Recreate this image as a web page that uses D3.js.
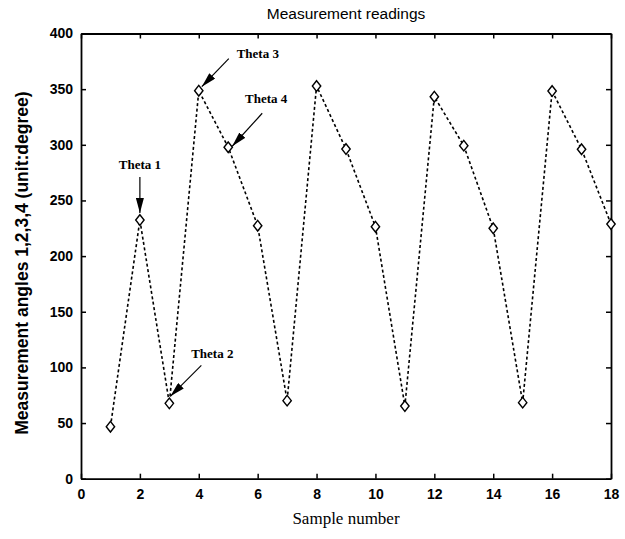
<!DOCTYPE html>
<html>
<head>
<meta charset="utf-8">
<script src="https://cdn.jsdelivr.net/npm/d3@7"></script>
<style>
  html, body { margin: 0; padding: 0; background: #fff; }
  svg { display: block; }
</style>
</head>
<body>
<script>
// ---- data ----
const samples = [1, 2, 3, 4, 5, 6, 7, 8, 9, 10, 11, 12, 13, 14, 15, 16, 17, 18];
const angles  = [46.7, 232.4, 67.7, 348.6, 297.8, 227.3, 70.1, 352.8, 296.2, 226.4, 65.3, 343.2, 299.2, 225.0, 68.3, 348.3, 296.0, 228.8];
const xTicks = [0, 2, 4, 6, 8, 10, 12, 14, 16, 18];
const yTicks = [0, 50, 100, 150, 200, 250, 300, 350, 400];
const annLabels = ["Theta 1", "Theta 2", "Theta 3", "Theta 4"];
const annSample = [2, 3, 4, 5];

const W = 625, H = 539;
const m = { left: 81, right: 14, top: 33.5, bottom: 60.3 };

const svg = d3.select("body").append("svg").attr("width", W).attr("height", H);

const x = d3.scaleLinear().domain([0, 18]).range([m.left, W - m.right]);
const y = d3.scaleLinear().domain([0, 400]).range([H - m.bottom, m.top]);

svg.append("defs").append("marker")
  .attr("id", "ah").attr("viewBox", "0 0 15 8")
  .attr("refX", 15).attr("refY", 4)
  .attr("markerWidth", 15).attr("markerHeight", 8)
  .attr("markerUnits", "userSpaceOnUse")
  .attr("orient", "auto")
  .append("path").attr("d", "M0,0 L15,4 L0,8 Z").attr("fill", "#000");

// axes (box with inward ticks)
const tickLen = 5;
const fontTick = "Arial, 'Liberation Sans', sans-serif";
const axB = svg.append("g").attr("transform", `translate(0,${y(0)})`)
  .call(d3.axisBottom(x).tickValues(xTicks).tickSizeInner(-tickLen).tickSizeOuter(0).tickPadding(10));
const axT = svg.append("g").attr("transform", `translate(0,${y(400)})`)
  .call(d3.axisTop(x).tickValues(xTicks).tickSizeInner(-tickLen).tickSizeOuter(0).tickFormat(""));
const axL = svg.append("g").attr("transform", `translate(${x(0)},0)`)
  .call(d3.axisLeft(y).tickValues(yTicks).tickSizeInner(-tickLen).tickSizeOuter(0).tickPadding(8));
const axR = svg.append("g").attr("transform", `translate(${x(18)},0)`)
  .call(d3.axisRight(y).tickValues(yTicks).tickSizeInner(-tickLen).tickSizeOuter(0).tickFormat(""));

[axB, axT, axL, axR].forEach(a => {
  a.select(".domain").attr("stroke", "#000").attr("stroke-width", 1.8);
  a.selectAll(".tick line").attr("stroke", "#000").attr("stroke-width", 1.5);
  a.selectAll("text").attr("fill", "#000").style("font-family", fontTick)
    .style("font-size", "14px").style("font-weight", "bold");
});

// line
const line = d3.line().x((d, i) => x(samples[i])).y(d => y(d));
svg.append("path").datum(angles)
  .attr("d", line).attr("fill", "none").attr("stroke", "#000")
  .attr("stroke-width", 1.6).attr("stroke-dasharray", "3,2.5");

// diamond markers
svg.selectAll("path.mk").data(angles).enter().append("path")
  .attr("class", "mk")
  .attr("d", (d, i) => {
    const cx = x(samples[i]), cy = y(d), hw = 4.2, hh = 5.3;
    return `M${cx},${cy - hh} L${cx + hw},${cy} L${cx},${cy + hh} L${cx - hw},${cy} Z`;
  })
  .attr("fill", "#fff").attr("stroke", "#000").attr("stroke-width", 1.4);

// annotations: label position and arrow offsets relative to the annotated point
const annText = [[0, -51], [43, -45], [59, -33], [38, -44]];
const annFrom = [[0, -43], [32, -38], [30, -32], [34, -34]];
const annTo   = [[0, -7], [1, -7], [3, -4], [4, -1]];
annLabels.forEach((lab, k) => {
  const px = x(annSample[k]), py = y(angles[annSample[k] - 1]);
  svg.append("text").attr("x", px + annText[k][0]).attr("y", py + annText[k][1])
    .attr("text-anchor", "middle")
    .style("font-family", "'Liberation Serif', 'Times New Roman', serif")
    .style("font-weight", "bold").style("font-size", "13px").text(lab);
  svg.append("line")
    .attr("x1", px + annFrom[k][0]).attr("y1", py + annFrom[k][1])
    .attr("x2", px + annTo[k][0]).attr("y2", py + annTo[k][1])
    .attr("stroke", "#000").attr("stroke-width", 1.2)
    .attr("marker-end", "url(#ah)");
});

// title and axis labels
svg.append("text").attr("x", (x(0) + x(18)) / 2).attr("y", 19)
  .attr("text-anchor", "middle")
  .style("font-family", fontTick).style("font-size", "15.5px")
  .text("Measurement readings");
svg.append("text").attr("x", (x(0) + x(18)) / 2).attr("y", 524)
  .attr("text-anchor", "middle")
  .style("font-family", "'Liberation Serif', 'Times New Roman', serif").style("font-size", "17px")
  .text("Sample number");
svg.append("text")
  .attr("transform", `translate(27.5,${(y(0) + y(400)) / 2 + 7}) rotate(-90)`)
  .attr("text-anchor", "middle")
  .style("font-family", fontTick).style("font-size", "17.5px").style("font-weight", "bold")
  .text("Measurement angles 1,2,3,4 (unit:degree)");
</script>
</body>
</html>
